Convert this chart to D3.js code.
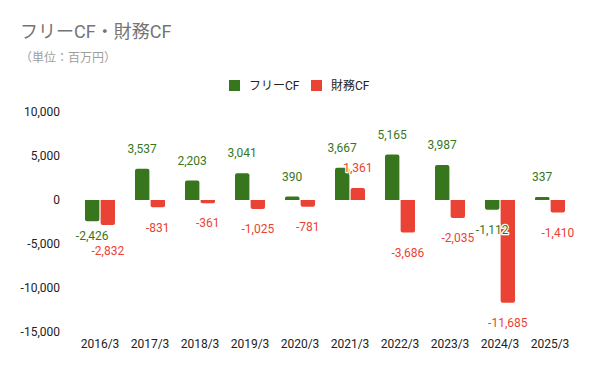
<!DOCTYPE html>
<html>
<head>
<meta charset="utf-8">
<script src="https://cdn.jsdelivr.net/npm/d3@7"></script>
<style>
  body { margin: 0; background: #fff; }
  text { font-family: Roboto, "Noto Sans CJK JP", sans-serif; }
</style>
</head>
<body>
<div id="chart"></div>
<script>
// フリーCF・財務CF の棒グラフ

const width = 600;
const height = 371;

const years = ["2016/3", "2017/3", "2018/3", "2019/3", "2020/3", "2021/3", "2022/3", "2023/3", "2024/3", "2025/3"];
const seriesNames = ["フリーCF", "財務CF"];
const freeCF = [-2426, 3537, 2203, 3041, 390, 3667, 5165, 3987, -1112, 337];
const financeCF = [-2832, -831, -361, -1025, -781, 1361, -3686, -2035, -11685, -1410];
const yTicks = [-15000, -10000, -5000, 0, 5000, 10000];

const colors = ["#38761d", "#ea4335"];
const labelColors = ["#38761d", "#ea4335"];

// d3.format はU+2212を使うので普通のハイフンに置き換える
const fmt = v => d3.format(",")(v).replace("\u2212", "-");

const svg = d3.select("#chart")
  .append("svg")
  .attr("width", width)
  .attr("height", height);

// タイトル
svg.append("text")
  .attr("x", 20).attr("y", 38)
  .style("font-size", "18px")
  .style("fill", "#757575")
  .text("フリーCF・財務CF");

svg.append("text")
  .attr("x", 20).attr("y", 62)
  .style("font-size", "12px")
  .style("fill", "#9e9e9e")
  .text("（単位：百万円）");

// 凡例
const legend = svg.append("g");
const legendX = [229, 311];
seriesNames.forEach((name, i) => {
  legend.append("rect")
    .attr("x", legendX[i]).attr("y", 80)
    .attr("width", 11).attr("height", 11)
    .attr("fill", colors[i]);
  legend.append("text")
    .attr("x", legendX[i] + 20).attr("y", 85.5)
    .attr("dy", "0.35em")
    .style("font-size", "12px")
    .style("fill", "#222")
    .text(name);
});

// スケール
const x0 = d3.scaleBand()
  .domain(years)
  .range([75, 575])
  .paddingInner(0.4)
  .paddingOuter(0.2);

const x1 = d3.scaleBand()
  .domain(seriesNames)
  .range([0, x0.bandwidth()])
  .paddingInner(0.08);

const y = d3.scaleLinear()
  .domain([-15000, 10000])
  .range([332, 112]);

// 軸
const yAxis = d3.axisLeft(y)
  .tickValues(yTicks)
  .tickSize(0)
  .tickPadding(0)
  .tickFormat(fmt);

svg.append("g")
  .attr("transform", "translate(60,0)")
  .call(yAxis)
  .call(g => g.select(".domain").remove())
  .selectAll("text")
  .style("font-size", "12px")
  .style("font-family", "Roboto, sans-serif")
  .style("fill", "#222");

const xAxis = d3.axisBottom(x0).tickSize(0).tickPadding(0);
svg.append("g")
  .attr("transform", "translate(0,339)")
  .call(xAxis)
  .call(g => g.select(".domain").remove())
  .selectAll("text")
  .style("font-size", "12px")
  .style("font-family", "Roboto, sans-serif")
  .style("fill", "#222");

// データ
const data = years.map((yr, i) => ({
  year: yr,
  values: [
    { key: seriesNames[0], idx: 0, value: freeCF[i] },
    { key: seriesNames[1], idx: 1, value: financeCF[i] }
  ]
}));

// 先端だけ角を丸めた棒
function barPath(d, x, w) {
  const r = 2;
  const y0 = y(0);
  const y1 = y(d.value);
  const h = Math.abs(y1 - y0);
  const rr = Math.min(r, h / 2, w / 2);
  if (d.value >= 0) {
    return `M${x},${y0}V${y1 + rr}Q${x},${y1} ${x + rr},${y1}H${x + w - rr}Q${x + w},${y1} ${x + w},${y1 + rr}V${y0}Z`;
  }
  return `M${x},${y0}V${y1 - rr}Q${x},${y1} ${x + rr},${y1}H${x + w - rr}Q${x + w},${y1} ${x + w},${y1 - rr}V${y0}Z`;
}

const groups = svg.append("g")
  .selectAll("g")
  .data(data)
  .join("g")
  .attr("transform", d => `translate(${x0(d.year)},0)`);

groups.selectAll("path")
  .data(d => d.values)
  .join("path")
  .attr("d", d => barPath(d, x1(d.key), x1.bandwidth()))
  .attr("fill", d => colors[d.idx]);

// ラベル位置（重なり回避）
const offset = 20;
const minGap = 15;
data.forEach(g => {
  g.values.forEach(v => {
    v.cy = v.value >= 0 ? y(v.value) - offset : y(v.value) + offset;
  });
  const [a, b] = g.values;
  if ((a.value >= 0) === (b.value >= 0)) {
    const diff = Math.abs(a.cy - b.cy);
    if (diff < minGap) {
      const push = (minGap - diff) / 2;
      const upper = a.cy <= b.cy ? a : b;
      const lower = upper === a ? b : a;
      upper.cy -= push;
      lower.cy += push;
    }
  }
});

// 数値ラベル（緑を上に描く）
const labelLayer = svg.append("g");
[1, 0].forEach(si => {
  labelLayer.append("g")
    .selectAll("text")
    .data(data.map(g => ({ year: g.year, v: g.values[si] })))
    .join("text")
    .attr("x", d => x0(d.year) + x1(d.v.key) + x1.bandwidth() / 2)
    .attr("y", d => d.v.cy)
    .attr("dy", "0.35em")
    .attr("text-anchor", "middle")
    .style("font-size", "12px")
    .style("fill", labelColors[si])
    .style("stroke", "#fff")
    .style("stroke-width", 2.5)
    .style("paint-order", "stroke")
    .style("stroke-linejoin", "round")
    .text(d => fmt(d.v.value));
});
</script>
</body>
</html>
